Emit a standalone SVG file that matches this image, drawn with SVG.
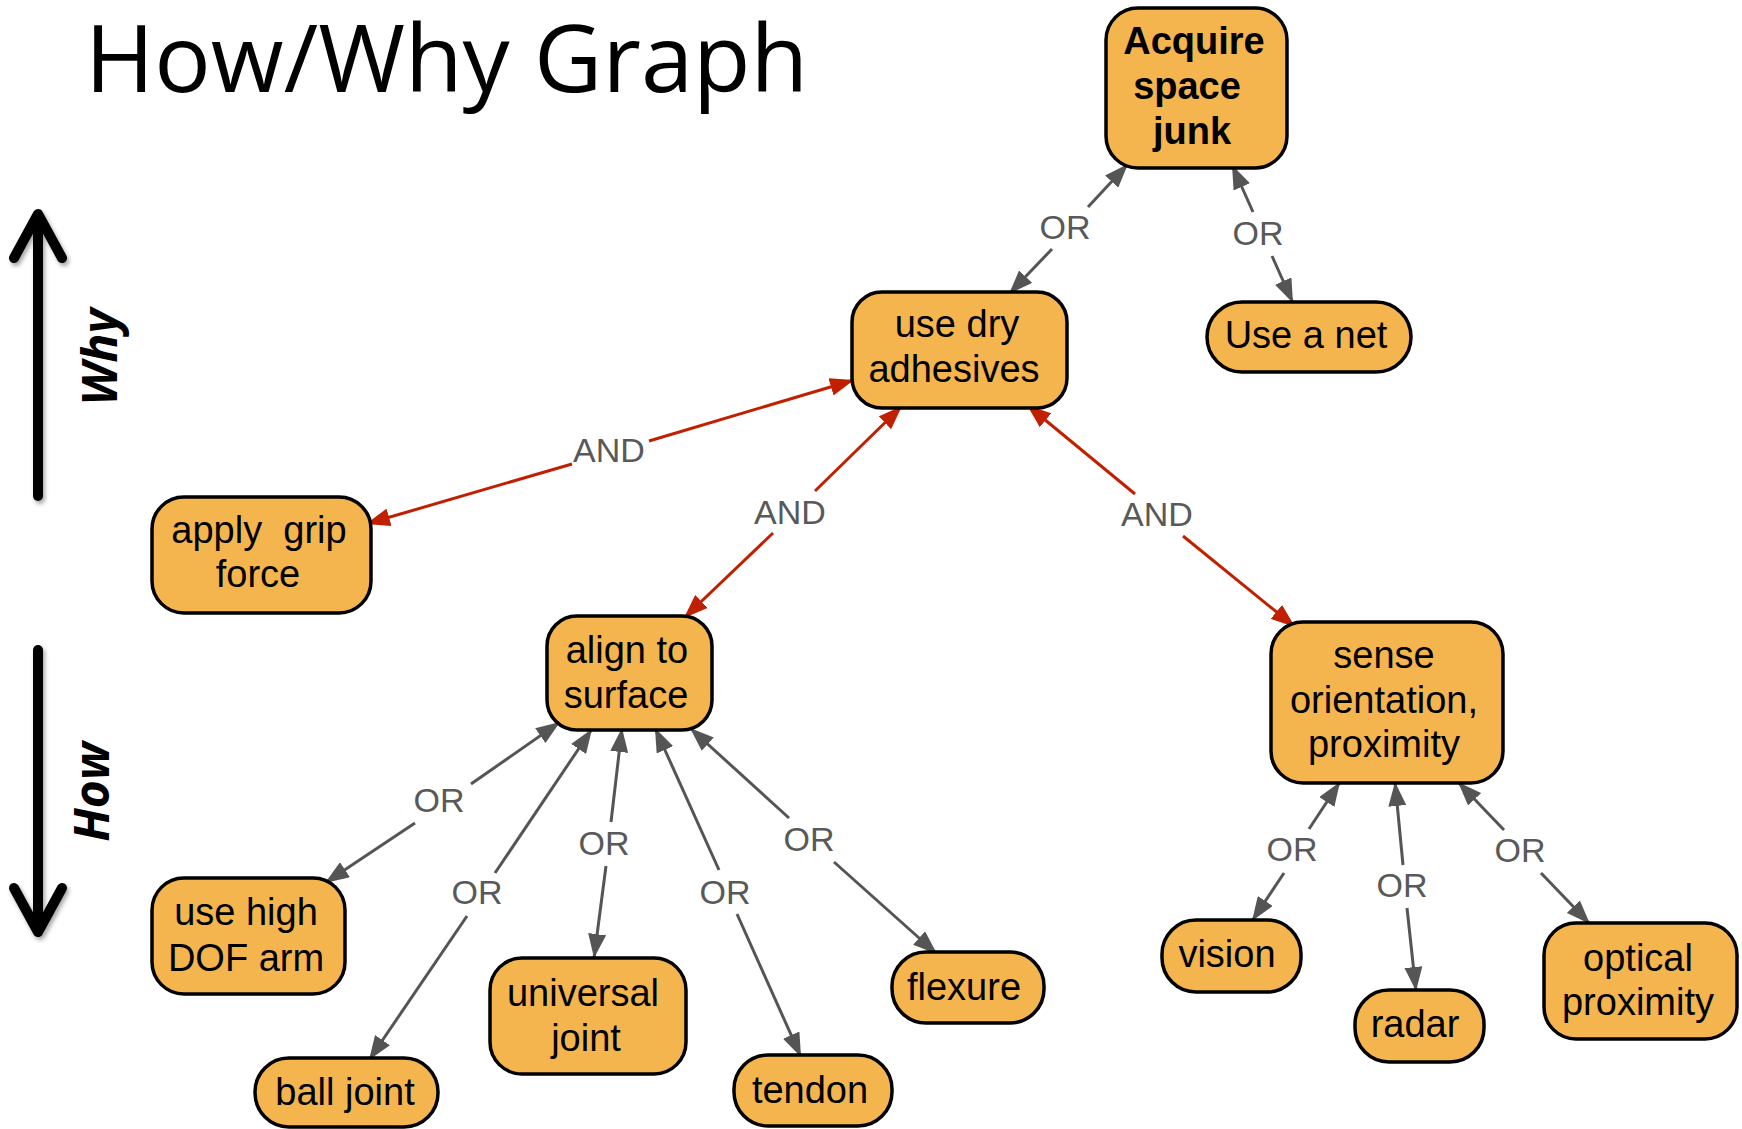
<svg xmlns="http://www.w3.org/2000/svg" width="1742" height="1129" viewBox="0 0 1742 1129">
<style>
.node rect{fill:#F4B54F;stroke:#000;stroke-width:3.5}
.node text{font-family:"Liberation Sans",Arial,sans-serif;font-size:38px;fill:#000;text-anchor:middle}
.or{stroke:#555;stroke-width:3;fill:none;marker-end:url(#ag)}
.and{stroke:#C02000;stroke-width:3;fill:none;marker-end:url(#ar)}
.lbl{font-family:"Liberation Sans",Arial,sans-serif;font-size:34px;fill:#595959;text-anchor:middle}
.big{stroke:#000;stroke-width:10;stroke-linecap:round;stroke-linejoin:round;fill:none}
.side{font-family:"Open Sans","Liberation Sans",sans-serif;font-size:48px;font-weight:bold;font-style:italic;fill:#000;text-anchor:middle}
</style>
<defs>
<marker id="ag" markerUnits="userSpaceOnUse" markerWidth="25" markerHeight="18" refX="24" refY="9" orient="auto"><path d="M0,0 L24,9 L0,18 z" fill="#555"/></marker>
<marker id="ar" markerUnits="userSpaceOnUse" markerWidth="25" markerHeight="18" refX="24" refY="9" orient="auto"><path d="M0,0 L24,9 L0,18 z" fill="#C02000"/></marker>
<filter id="sh" x="-50%" y="-10%" width="200%" height="120%"><feDropShadow dx="2" dy="3" stdDeviation="2" flood-color="#000" flood-opacity="0.35"/></filter>
</defs>
<rect width="1742" height="1129" fill="#fff"/>
<text x="85" y="92" font-family="'Open Sans','Liberation Sans',sans-serif" font-size="94" fill="#000">How/Why Graph</text>
<g id="why-arrow" filter="url(#sh)">
<line class="big" x1="38" y1="216" x2="38" y2="496"/>
<polyline class="big" points="14,258 38,214 62,258"/>
</g>
<text class="side" transform="translate(117,357) rotate(-90)">Why</text>
<g id="how-arrow" filter="url(#sh)">
<line class="big" x1="38" y1="650" x2="38" y2="930"/>
<polyline class="big" points="14,888 38,932 62,888"/>
</g>
<text class="side" transform="translate(109,792) rotate(-90)">How</text>
<g id="connectors">
<line class="or" x1="1088" y1="207" x2="1128" y2="164"/><line class="or" x1="1052" y1="249" x2="1009" y2="294"/>
<line class="or" x1="1253" y1="212" x2="1232" y2="165"/><line class="or" x1="1272" y1="256" x2="1293" y2="303"/>
<line class="and" x1="649" y1="441" x2="854" y2="380"/><line class="and" x1="572" y1="464" x2="366" y2="524"/>
<line class="and" x1="815" y1="491" x2="902" y2="406"/><line class="and" x1="773" y1="533" x2="684" y2="618"/>
<line class="and" x1="1135" y1="494" x2="1027" y2="405"/><line class="and" x1="1183" y1="536" x2="1295" y2="627"/>
<line class="or" x1="471" y1="784" x2="560" y2="722"/><line class="or" x1="415" y1="823" x2="325" y2="883"/>
<line class="or" x1="495" y1="873" x2="592" y2="729"/><line class="or" x1="467" y1="916" x2="369" y2="1060"/>
<line class="or" x1="611" y1="822" x2="622" y2="728"/><line class="or" x1="606" y1="866" x2="594" y2="958"/>
<line class="or" x1="719" y1="870" x2="655" y2="728"/><line class="or" x1="737" y1="914" x2="801" y2="1057"/>
<line class="or" x1="789" y1="818" x2="690" y2="728"/><line class="or" x1="834" y1="862" x2="937" y2="954"/>
<line class="or" x1="1309" y1="829" x2="1340" y2="782"/><line class="or" x1="1284" y1="873" x2="1252" y2="921"/>
<line class="or" x1="1403" y1="865" x2="1395" y2="782"/><line class="or" x1="1407" y1="908" x2="1416" y2="991"/>
<line class="or" x1="1504" y1="830" x2="1458" y2="782"/><line class="or" x1="1541" y1="873" x2="1590" y2="924"/>
<text class="lbl" x="1065" y="239">OR</text>
<text class="lbl" x="1258" y="245">OR</text>
<text class="lbl" x="609" y="462">AND</text>
<text class="lbl" x="790" y="524">AND</text>
<text class="lbl" x="1157" y="526">AND</text>
<text class="lbl" x="439" y="812">OR</text>
<text class="lbl" x="477" y="904">OR</text>
<text class="lbl" x="604" y="855">OR</text>
<text class="lbl" x="725" y="904">OR</text>
<text class="lbl" x="809" y="851">OR</text>
<text class="lbl" x="1292" y="861">OR</text>
<text class="lbl" x="1402" y="897">OR</text>
<text class="lbl" x="1520" y="862">OR</text>
</g>
<g id="acquire" class="node"><rect x="1106" y="8" width="181" height="160" rx="32"/>
<text font-weight="bold"><tspan x="1194" y="54">Acquire</tspan><tspan x="1187" y="99">space</tspan><tspan x="1192" y="144">junk</tspan></text></g>
<g id="net" class="node"><rect x="1207" y="302" width="204" height="70" rx="35"/><text x="1306" y="348">Use a net</text></g>
<g id="dry" class="node"><rect x="852" y="292" width="215" height="116" rx="30"/><text><tspan x="957" y="337">use dry</tspan><tspan x="954" y="382">adhesives</tspan></text></g>
<g id="grip" class="node"><rect x="152" y="497" width="219" height="116" rx="32"/><text xml:space="preserve"><tspan x="259" y="543">apply  grip</tspan><tspan x="258" y="587">force</tspan></text></g>
<g id="align" class="node"><rect x="547" y="616" width="165" height="114" rx="30"/><text><tspan x="627" y="663">align to</tspan><tspan x="626" y="708">surface</tspan></text></g>
<g id="sense" class="node"><rect x="1271" y="622" width="232" height="161" rx="32"/><text><tspan x="1384" y="668">sense</tspan><tspan x="1384" y="713">orientation,</tspan><tspan x="1384" y="757">proximity</tspan></text></g>
<g id="dof" class="node"><rect x="152" y="878" width="193" height="116" rx="32"/><text><tspan x="246" y="925">use high</tspan><tspan x="246" y="971">DOF arm</tspan></text></g>
<g id="ball" class="node"><rect x="255" y="1058" width="183" height="69" rx="34"/><text x="345" y="1105">ball joint</text></g>
<g id="universal" class="node"><rect x="490" y="958" width="196" height="116" rx="32"/><text><tspan x="583" y="1006">universal</tspan><tspan x="586" y="1051">joint</tspan></text></g>
<g id="tendon" class="node"><rect x="734" y="1055" width="158" height="71" rx="34"/><text x="810" y="1103">tendon</text></g>
<g id="flexure" class="node"><rect x="892" y="952" width="152" height="71" rx="34"/><text x="964" y="1000">flexure</text></g>
<g id="vision" class="node"><rect x="1162" y="920" width="139" height="72" rx="34"/><text x="1227" y="967">vision</text></g>
<g id="radar" class="node"><rect x="1355" y="990" width="129" height="72" rx="34"/><text x="1415" y="1037">radar</text></g>
<g id="optical" class="node"><rect x="1544" y="923" width="193" height="116" rx="32"/><text><tspan x="1638" y="971">optical</tspan><tspan x="1638" y="1015">proximity</tspan></text></g>
</svg>
